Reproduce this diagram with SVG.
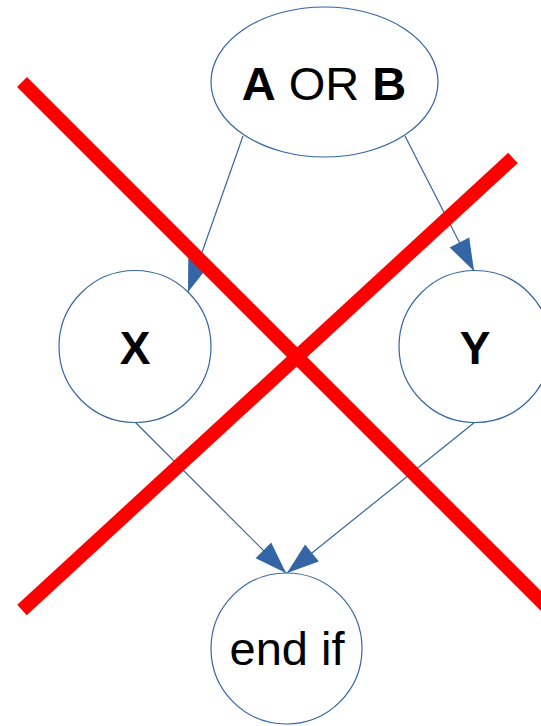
<svg xmlns="http://www.w3.org/2000/svg" width="541" height="726" viewBox="0 0 541 726">
<style>
.node{fill:#fff;stroke:#3465a4;stroke-width:1.2}
.conn{stroke:#3465a4;stroke-width:1.2;fill:none}
.lbl{font-family:"Liberation Sans",Arial,sans-serif;fill:#000;text-anchor:middle}
.b{font-weight:bold}
.cross{stroke:#ff0000;stroke-width:14;stroke-linecap:butt}
</style>
<defs>
<marker id="arr" markerUnits="userSpaceOnUse" markerWidth="34" markerHeight="24" viewBox="0 -12 33 24" refX="32" refY="0" orient="auto">
<path d="M0,-11 L32,0 L0,11 Z" fill="#3465a4"/>
</marker>
</defs>
<rect width="541" height="726" fill="#fff"/>
<g id="connectors">
<line class="conn" x1="243" y1="136" x2="188" y2="292" marker-end="url(#arr)"/>
<line class="conn" x1="405" y1="136" x2="474" y2="271" marker-end="url(#arr)"/>
<line class="conn" x1="135" y1="422" x2="286" y2="573" marker-end="url(#arr)"/>
<line class="conn" x1="475" y1="422" x2="287" y2="573" marker-end="url(#arr)"/>
</g>
<g id="nodeAB">
<ellipse class="node" cx="324.5" cy="82" rx="113.5" ry="75"/>
<text class="lbl" x="324" y="100" font-size="47"><tspan class="b">A</tspan> OR <tspan class="b">B</tspan></text>
</g>
<g id="nodeX">
<circle class="node" cx="135" cy="346.5" r="76"/>
<text class="lbl b" x="135" y="364" font-size="46">X</text>
</g>
<g id="nodeY">
<circle class="node" cx="475" cy="346.5" r="76"/>
<text class="lbl b" x="475" y="364" font-size="46">Y</text>
</g>
<g id="nodeEnd">
<circle class="node" cx="286.5" cy="648.5" r="75.5"/>
<text class="lbl" x="287" y="665" font-size="47">end if</text>
</g>
<g id="cross">
<line class="cross" x1="22" y1="82" x2="550" y2="610"/>
<line class="cross" x1="22" y1="610" x2="513" y2="158"/>
</g>
</svg>
